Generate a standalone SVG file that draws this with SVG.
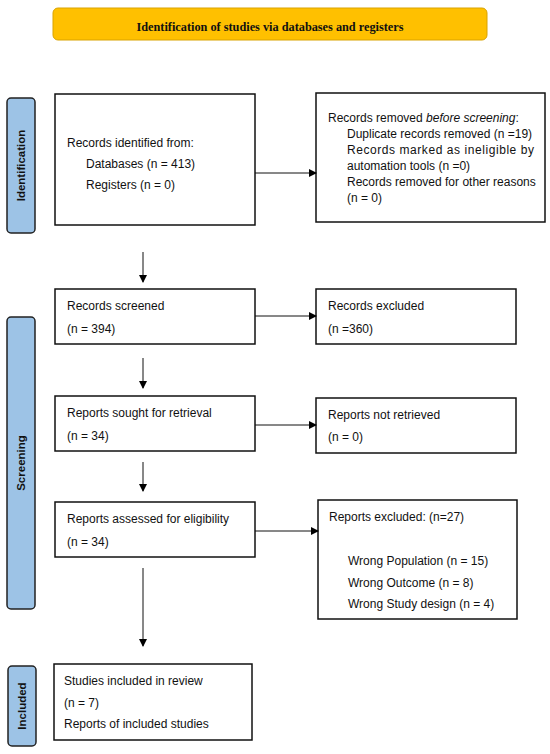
<svg xmlns="http://www.w3.org/2000/svg" width="550" height="754" viewBox="0 0 550 754">
<defs>
<marker id="ah" markerWidth="8" markerHeight="8" refX="7" refY="4" orient="auto" markerUnits="userSpaceOnUse">
<path d="M0,0 L8,4 L0,8 Z" fill="#000"/>
</marker>
<style>
.box{fill:#fff;stroke:#111;stroke-width:1.5}
.side{fill:#9dc3e6;stroke:#222;stroke-width:1.5}
.t{font-family:"Liberation Sans",Arial,sans-serif;font-size:12px;fill:#111}
.st{font-family:"Liberation Sans",Arial,sans-serif;font-size:11.5px;font-weight:bold;fill:#111}
.c{stroke:#111;stroke-width:1;fill:none;marker-end:url(#ah)}
</style>
</defs>
<rect width="550" height="754" fill="#fff"/>
<g id="title">
<rect x="53" y="8" width="434" height="32" rx="5" fill="#ffc000" stroke="#d9a300" stroke-width="1"/>
<text x="270" y="31" text-anchor="middle" font-family="'Liberation Serif','DejaVu Serif',serif" font-size="11.5" font-weight="bold" fill="#111" textLength="267" lengthAdjust="spacingAndGlyphs">Identification of studies via databases and registers</text>
</g>
<g id="label-identification">
<rect class="side" x="7" y="98" width="28" height="135" rx="4"/>
<text class="st" transform="translate(25,165.5) rotate(-90)" text-anchor="middle">Identification</text>
</g>
<g id="label-screening">
<rect class="side" x="7" y="317" width="28" height="292" rx="4"/>
<text class="st" transform="translate(25,463) rotate(-90)" text-anchor="middle">Screening</text>
</g>
<g id="label-included">
<rect class="side" x="8" y="666" width="28" height="80" rx="4"/>
<text class="st" transform="translate(26,706) rotate(-90)" text-anchor="middle">Included</text>
</g>
<g id="identified">
<rect class="box" x="55" y="94" width="200" height="131"/>
<text class="t" x="67" y="147">Records identified from:</text>
<text class="t" x="86" y="168">Databases (n = 413)</text>
<text class="t" x="86" y="189">Registers (n = 0)</text>
</g>
<g id="removed">
<rect class="box" x="316" y="93" width="229" height="129"/>
<text class="t" x="328" y="122">Records removed <tspan font-style="italic">before screening</tspan>:</text>
<text class="t" x="347" y="138">Duplicate records removed (n =19)</text>
<text class="t" x="347" y="154" textLength="187" lengthAdjust="spacing">Records marked as ineligible by</text>
<text class="t" x="347" y="170">automation tools (n =0)</text>
<text class="t" x="347" y="186">Records removed for other reasons</text>
<text class="t" x="347" y="202">(n = 0)</text>
</g>
<g id="screened">
<rect class="box" x="55" y="289" width="200" height="55"/>
<text class="t" x="67" y="310">Records screened</text>
<text class="t" x="67" y="333">(n = 394)</text>
</g>
<g id="excluded">
<rect class="box" x="316" y="289" width="200" height="55"/>
<text class="t" x="328" y="310">Records excluded</text>
<text class="t" x="328" y="333">(n =360)</text>
</g>
<g id="sought">
<rect class="box" x="55" y="396" width="200" height="55"/>
<text class="t" x="67" y="417">Reports sought for retrieval</text>
<text class="t" x="67" y="440">(n = 34)</text>
</g>
<g id="notretrieved">
<rect class="box" x="316" y="398" width="200" height="55"/>
<text class="t" x="328" y="419">Reports not retrieved</text>
<text class="t" x="328" y="441">(n = 0)</text>
</g>
<g id="assessed">
<rect class="box" x="55" y="502" width="200" height="55"/>
<text class="t" x="67" y="523">Reports assessed for eligibility</text>
<text class="t" x="67" y="546">(n = 34)</text>
</g>
<g id="reportsexcluded">
<rect class="box" x="318" y="500" width="199" height="119"/>
<text class="t" x="329" y="521">Reports excluded: (n=27)</text>
<text class="t" x="348" y="565">Wrong Population (n = 15)</text>
<text class="t" x="348" y="587">Wrong Outcome (n = 8)</text>
<text class="t" x="348" y="608">Wrong Study design (n = 4)</text>
</g>
<g id="included">
<rect class="box" x="54" y="664" width="198" height="76"/>
<text class="t" x="64" y="685">Studies included in review</text>
<text class="t" x="64" y="707">(n = 7)</text>
<text class="t" x="64" y="728">Reports of included studies</text>
</g>
<g id="connectors">
<line class="c" x1="255" y1="173" x2="316" y2="173"/>
<line class="c" x1="143" y1="252" x2="143" y2="282"/>
<line class="c" x1="255" y1="316" x2="316" y2="316"/>
<line class="c" x1="143" y1="358" x2="143" y2="388"/>
<line class="c" x1="255" y1="425" x2="316" y2="425"/>
<line class="c" x1="143" y1="462" x2="143" y2="491"/>
<line class="c" x1="255" y1="531" x2="318" y2="531"/>
<line class="c" x1="143" y1="568" x2="143" y2="646"/>
</g>
</svg>
